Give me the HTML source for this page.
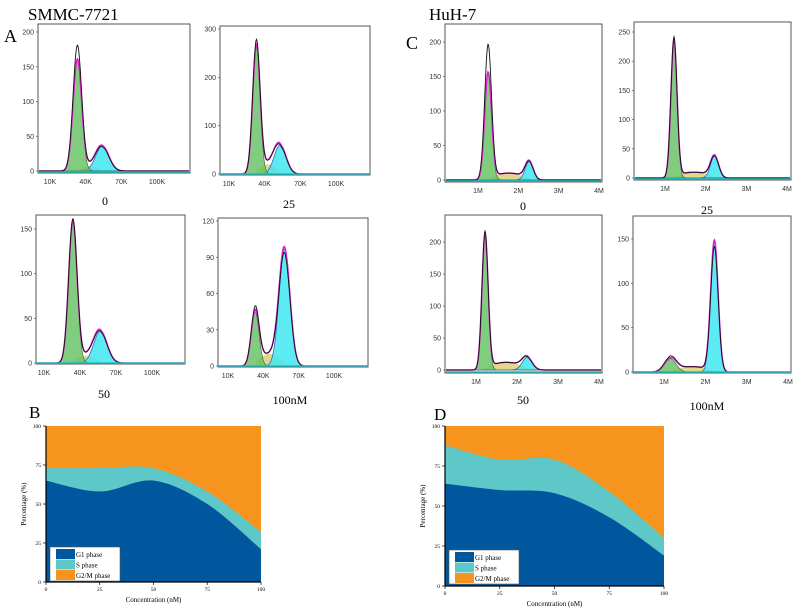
<!DOCTYPE html>
<html><head><meta charset="utf-8">
<style>
body{margin:0;background:#fff;width:800px;height:614px;overflow:hidden;font-family:"Liberation Sans",sans-serif}
svg{position:absolute;left:0;top:0}
</style></head>
<body>
<svg id="fig" width="800" height="614" viewBox="0 0 800 614">
<text x="28" y="20" font-family="Liberation Serif" font-size="17">SMMC-7721</text>
<text x="429" y="20" font-family="Liberation Serif" font-size="17">HuH-7</text>
<text x="4" y="42" font-family="Liberation Serif" font-size="18">A</text>
<text x="406" y="49" font-family="Liberation Serif" font-size="18">C</text>
<text x="29" y="418" font-family="Liberation Serif" font-size="17">B</text>
<text x="434" y="420" font-family="Liberation Serif" font-size="17">D</text>
<g id="hists"></g>
<g id="areas"></g>
</svg>
<script>
// ---- Histogram data (peak params per panel) ----
const histNames = ["A-0","A-25","A-50","A-100","C-0","C-25","C-50","C-100"];
const histLabels = ["0","25","50","100nM","0","25","50","100nM"];
const g1Pos = [33,33,34,33, 1.25,1.22,1.22,1.15];
const g1Height = [160,265,158,45, 155,235,210,15];
const g2Pos = [54,53,57,58, 2.27,2.22,2.25,2.22];
const g2Height = [36,60,36,97, 27,38,20,148];
const sHeight = [6,20,8,10, 10,10,12,6];
const blackPeak = [180,275,160,48, 195,240,215,17];
const xTicksK = ["10K","40K","70K","100K"];
const xTicksKVal = [10,40,70,100];
const xTicksM = ["1M","2M","3M","4M"];
const xTicksMVal = [1,2,3,4];
const yTicks = [[0,50,100,150,200],[0,100,200,300],[0,50,100,150],[0,30,60,90,120],
 [0,50,100,150,200],[0,50,100,150,200,250],[0,50,100,150,200],[0,50,100,150]];

const L = [
 {x0:38,x1:190,t:24,b:173,xa:10,pa:50,xb:100,pb:157,ya:0,qa:171,yb:200,qb:32,lx:105,ly:205,sg1:3.6,sg2:5.5},
 {x0:220,x1:370,t:26,b:175,xa:10,pa:229,xb:100,pb:336,ya:0,qa:174,yb:300,qb:29,lx:289,ly:208,sg1:3.1,sg2:5},
 {x0:36,x1:185,t:215,b:364,xa:10,pa:44,xb:100,pb:152,ya:0,qa:363,yb:150,qb:229,lx:104,ly:398,sg1:3.5,sg2:5.5},
 {x0:218,x1:368,t:218,b:367,xa:10,pa:228,xb:100,pb:334,ya:0,qa:366,yb:120,qb:221,lx:290,ly:404,sg1:3.3,sg2:4.6},
 {x0:445,x1:602,t:24,b:182,xa:1,pa:478,xb:4,pb:599,ya:0,qa:180,yb:200,qb:42,lx:523,ly:210,sg1:0.085,sg2:0.1},
 {x0:634,x1:791,t:22,b:180,xa:1,pa:665,xb:4,pb:787,ya:0,qa:178,yb:250,qb:32,lx:707,ly:214,sg1:0.075,sg2:0.1},
 {x0:445,x1:602,t:215,b:373,xa:1,pa:476,xb:4,pb:599,ya:0,qa:370,yb:200,qb:242,lx:523,ly:404,sg1:0.075,sg2:0.12},
 {x0:633,x1:791,t:216,b:373,xa:1,pa:664,xb:4,pb:788,ya:0,qa:372,yb:150,qb:239,lx:707,ly:410,sg1:0.14,sg2:0.09}
];
const NS="http://www.w3.org/2000/svg";
function mk(tag,attrs,parent){const e=document.createElementNS(NS,tag);for(const k in attrs)e.setAttribute(k,attrs[k]);parent.appendChild(e);return e;}
const H=document.getElementById('hists');
function gauss(x,m,s){return Math.exp(-0.5*((x-m)/s)**2);}
for(let i=0;i<8;i++){
  const c=L[i];
  const g=mk('g',{},H);
  
  
  const X=v=>c.pa+(v-c.xa)*(c.pb-c.pa)/(c.xb-c.xa);
  const Y=v=>c.qa+(v-c.ya)*(c.qb-c.qa)/(c.yb-c.ya);
  const Xinv=p=>c.xa+(p-c.pa)*(c.xb-c.xa)/(c.pb-c.pa);
  const box=mk('rect',{x:c.x0,y:c.t,width:c.x1-c.x0,height:c.b-c.t,fill:'#fff',stroke:'#555','stroke-width':1},g);
  
  
  const g1=[],g2=[],sp=[],tot=[],blk=[];
  for(let p=c.x0+1;p<=c.x1-1;p+=0.5){
    const v=Xinv(p);
    const a=g1Height[i]*gauss(v,g1Pos[i],c.sg1);
    const b=g2Height[i]*gauss(v,g2Pos[i],c.sg2);
    const mid=(g1Pos[i]+g2Pos[i])/2, half=(g2Pos[i]-g1Pos[i])/2;
    const s=sHeight[i]*Math.max(0,1-((v-mid)/(half*1.1))**2);
    g1.push([p,Y(a)]);g2.push([p,Y(b)]);sp.push([p,Y(s)]);
    tot.push([p,Y(a+b+s)]);
    blk.push([p,Y(a*blackPeak[i]/g1Height[i]+b*0.95+s)]);
  }
  const base=Y(0);
  const area=pts=>'M'+pts[0][0]+','+base+' L'+pts.map(q=>q[0].toFixed(1)+','+q[1].toFixed(1)).join(' L')+' L'+pts[pts.length-1][0]+','+base+'Z';
  const line=pts=>'M'+pts.map(q=>q[0].toFixed(1)+','+q[1].toFixed(1)).join(' L');
  let e=mk('path',{d:area(sp),fill:'#d8d070','fill-opacity':0.8},g);
  
  e=mk('path',{d:area(g2),fill:'#40e8f0','fill-opacity':0.85,stroke:'#4060c0','stroke-width':0.8},g);
  
  e=mk('path',{d:area(g1),fill:'#60c060','fill-opacity':0.8,stroke:'#2a6a2a','stroke-width':0.6},g);
  
  e=mk('path',{d:line(tot),fill:'none',stroke:'#e020d0','stroke-width':1.5},g);
  
  e=mk('path',{d:line(blk),fill:'none',stroke:'#111','stroke-width':0.9},g);
  
  e=mk('line',{x1:c.x0,x2:c.x1,y1:c.b-1,y2:c.b-1,stroke:'#20c0c0','stroke-width':1.5},g);
  
  const isK=i<4;
  const xl=isK?xTicksK:xTicksM, xv=isK?xTicksKVal:xTicksMVal;
  for(let k=0;k<xl.length;k++){
    e=mk('text',{x:X(xv[k]),y:c.b+11,'font-size':7,fill:'#333','text-anchor':'middle'},g);
    e.textContent=xl[k];
    
  }
  for(const t of yTicks[i]){
    e=mk('text',{x:c.x0-4,y:Y(t)+2.5,'font-size':7,fill:'#333','text-anchor':'end'},g);
    e.textContent=t;
    
    mk('line',{x1:c.x0-2,x2:c.x0,y1:Y(t),y2:Y(t),stroke:'#555','stroke-width':0.7},g);
  }
  e=mk('text',{x:c.lx,y:c.ly,'font-size':12,'font-family':'Liberation Serif','text-anchor':'middle'},g);
  e.textContent=histLabels[i];
  
}

// ---- Stacked area data ----
const conc = [0,25,50,75,100];
const bG1 = [65,58,65,50,21];
const bS = [8,15,8,8,11];
const dG1 = [64,60,58,43,19];
const dS = [24,19,21,16,11];
const pctTicks = [0,25,50,75,100];
const legendLabels = ["G1 phase","S phase","G2/M phase"];
const colors = ["#00579e","#5ec8c8","#f7941d"];

const A=document.getElementById('areas');
function smooth(pts){
  let d='M'+pts[0][0]+','+pts[0][1];
  for(let i=0;i<pts.length-1;i++){
    const p0=pts[Math.max(0,i-1)],p1=pts[i],p2=pts[i+1],p3=pts[Math.min(pts.length-1,i+2)];
    const c1=[p1[0]+(p2[0]-p0[0])/6,p1[1]+(p2[1]-p0[1])/6];
    const c2=[p2[0]-(p3[0]-p1[0])/6,p2[1]-(p3[1]-p1[1])/6];
    d+=` C${c1[0].toFixed(1)},${c1[1].toFixed(1)} ${c2[0].toFixed(1)},${c2[1].toFixed(1)} ${p2[0]},${p2[1].toFixed(1)}`;
  }
  return d;
}
function areaChart(name,x0,x1,t,b,g1,s,lx,ly){
  const g=mk('g',{},A);
  
  
  const X=v=>x0+v*(x1-x0)/100, Y=v=>b-v*(b-t)/100;
  let e=mk('rect',{x:x0,y:t,width:x1-x0,height:b-t,fill:colors[2]},g);
  
  const top=conc.map((c,i)=>[X(c),Y(g1[i]+s[i])]);
  e=mk('path',{d:smooth(top)+` L${x1},${b} L${x0},${b}Z`,fill:colors[1]},g);
  
  const gp=conc.map((c,i)=>[X(c),Y(g1[i])]);
  e=mk('path',{d:smooth(gp)+` L${x1},${b} L${x0},${b}Z`,fill:colors[0]},g);
  
  mk('line',{x1:x0,x2:x0,y1:t,y2:b,stroke:'#000','stroke-width':1.2},g);
  mk('line',{x1:x0,x2:x1,y1:b,y2:b,stroke:'#000','stroke-width':1.2},g);
  for(const v of pctTicks){
    e=mk('text',{x:x0-5,y:Y(v)+2,'font-size':5.5,'font-family':'Liberation Serif','text-anchor':'end'},g);
    e.textContent=v;
    
    mk('line',{x1:x0-3,x2:x0,y1:Y(v),y2:Y(v),stroke:'#000','stroke-width':0.7},g);
  }
  for(const v of conc){
    e=mk('text',{x:X(v),y:b+9,'font-size':5.5,'font-family':'Liberation Serif','text-anchor':'middle'},g);
    e.textContent=v;
    
    mk('line',{x1:X(v),x2:X(v),y1:b,y2:b+3,stroke:'#000','stroke-width':0.7},g);
  }
  e=mk('text',{x:(x0+x1)/2,y:b+20,'font-size':7,'font-family':'Liberation Serif','text-anchor':'middle'},g);
  e.textContent='Concentration (nM)';
  
  const cy=(t+b)/2;
  e=mk('text',{x:x0-20,y:cy,'font-size':7,'font-family':'Liberation Serif','text-anchor':'middle',transform:`rotate(-90 ${x0-20} ${cy})`},g);
  e.textContent='Percentage (%)';
  
  const lg=mk('g',{},g);
  
  
  mk('rect',{x:lx,y:ly,width:70,height:34,fill:'#fff',stroke:'#555','stroke-width':0.6},lg);
  for(let k=0;k<3;k++){
    e=mk('rect',{x:lx+6,y:ly+2+k*10.5,width:19,height:10,fill:colors[k]},lg);
    
    e=mk('text',{x:lx+26,y:ly+10+k*10.5,'font-size':7,'font-family':'Liberation Serif'},lg);
    e.textContent=legendLabels[k];
    
  }
}
areaChart('chart-b',46,261,426,582,bG1,bS,50,547);
areaChart('chart-d',445,664,426,586,dG1,dS,449,550);
</script>
</body></html>
